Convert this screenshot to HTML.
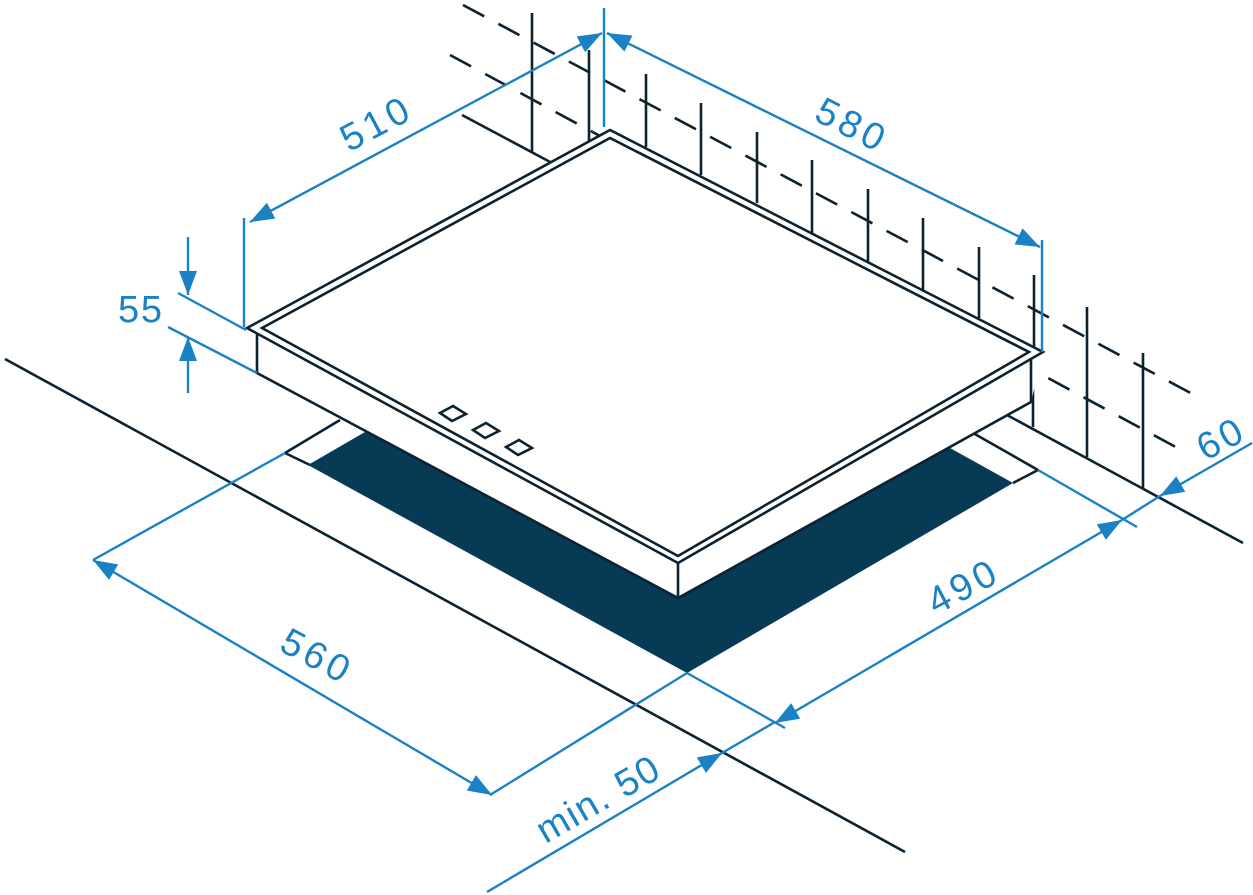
<!DOCTYPE html>
<html><head><meta charset="utf-8"><style>
html,body{margin:0;padding:0;background:#fff;}
svg{display:block;}
text{font-family:"Liberation Sans","DejaVu Sans",sans-serif;fill:#1a82c4;font-size:38px;}
</style></head><body>
<svg width="1253" height="895" viewBox="0 0 1253 895" xmlns="http://www.w3.org/2000/svg">
<defs>
<marker id="ar" viewBox="0 0 24 18" refX="24" refY="9" markerWidth="24" markerHeight="18" markerUnits="userSpaceOnUse" orient="auto-start-reverse">
<path d="M0,0 L24,9 L0,18 Z" fill="#1a82c4"/>
</marker>
</defs>
<g stroke="#0d2230" stroke-width="2.6" fill="none">
<!-- dashed wall lines -->
<line x1="463" y1="5" x2="1200" y2="398" stroke-dasharray="24,16"/>
<line x1="450" y1="55" x2="1185" y2="452" stroke-dasharray="24,16"/>
<!-- wall verticals -->
<line x1="532" y1="13" x2="532" y2="152"/>
<line x1="589" y1="50" x2="589" y2="142"/>
<line x1="646" y1="74" x2="646" y2="147"/>
<line x1="701" y1="103" x2="701" y2="175"/>
<line x1="757" y1="132" x2="757" y2="203"/>
<line x1="812" y1="160" x2="812" y2="233"/>
<line x1="868" y1="189" x2="868" y2="262"/>
<line x1="923" y1="218" x2="923" y2="290"/>
<line x1="979" y1="247" x2="979" y2="318"/>
<line x1="1034" y1="275" x2="1034" y2="347"/>
<line x1="1087" y1="307" x2="1087" y2="457"/>
<line x1="1143" y1="353" x2="1143" y2="488"/>
<line x1="1033" y1="352" x2="1033" y2="427"/>
<!-- wall bases -->
<line x1="462" y1="115" x2="552" y2="163"/>
<line x1="1007" y1="415" x2="1243" y2="543"/>
<!-- countertop front -->
<line x1="5" y1="359" x2="905" y2="852"/>
<!-- cutout -->
<line x1="285" y1="453" x2="340" y2="420"/>
<line x1="285" y1="453" x2="310" y2="465"/>
<line x1="973" y1="433" x2="1038" y2="470"/>
<line x1="1038" y1="470" x2="1013" y2="483"/>
</g>
<polygon points="308,465 365,432 680,590 950,448 1013,483 687,673" fill="#063a55"/>
<!-- hob -->
<polygon points="247,328 610,130 1043,352 1031,402 678,598 257,373 257,334" fill="#fff"/>
<g stroke="#0d2230" stroke-width="2.6" fill="none" stroke-linejoin="miter">
<polygon points="247,328 610,130 1043,352 678,563"/>
<polygon points="262,328 610,138 1029,352 678,556"/>
<polyline points="257,334 257,373 678,598 1031,402 1031,358"/>
<line x1="678" y1="563" x2="678" y2="598"/>
<polygon points="440,413 453,406 466,414 452,421"/>
<polygon points="473,430 486,423 499,431 485,438"/>
<polygon points="506,447 519,440 532,448 518,455"/>
</g>
<!-- dimensions -->
<g stroke="#1a82c4" stroke-width="2.4" fill="none">
<line x1="250" y1="222" x2="602" y2="33" marker-start="url(#ar)" marker-end="url(#ar)"/>
<line x1="607" y1="33" x2="1040" y2="247" marker-start="url(#ar)" marker-end="url(#ar)"/>
<line x1="604" y1="8" x2="604" y2="127"/>
<line x1="244" y1="218" x2="244" y2="327"/>
<line x1="1042" y1="240" x2="1042" y2="352"/>
<line x1="188" y1="237" x2="188" y2="295" marker-end="url(#ar)"/>
<line x1="188" y1="393" x2="188" y2="337" marker-end="url(#ar)"/>
<line x1="178" y1="293" x2="246" y2="330"/>
<line x1="168" y1="327" x2="257" y2="373"/>
<line x1="1252" y1="443" x2="1160" y2="496" marker-end="url(#ar)"/>
<line x1="1160" y1="496" x2="1122" y2="520"/>
<line x1="1122" y1="520" x2="775" y2="723" marker-start="url(#ar)" marker-end="url(#ar)"/>
<line x1="1038" y1="470" x2="1137" y2="527"/>
<line x1="687" y1="673" x2="785" y2="728"/>
<line x1="687" y1="673" x2="490" y2="795"/>
<line x1="93" y1="560" x2="285" y2="453"/>
<line x1="93" y1="560" x2="492" y2="795" marker-start="url(#ar)" marker-end="url(#ar)"/>
<line x1="487" y1="892" x2="722" y2="753" marker-end="url(#ar)"/>
<line x1="722" y1="753" x2="775" y2="722"/>
</g>
<text x="375" y="137" text-anchor="middle" transform="rotate(-28 375 125)" textLength="72">510</text>
<text x="850" y="137" text-anchor="middle" transform="rotate(27 850 125)" textLength="72">580</text>
<text x="140" y="322" text-anchor="middle" textLength="44">55</text>
<text x="1220" y="452" text-anchor="middle" transform="rotate(-28 1220 440)" textLength="46">60</text>
<text x="962" y="600" text-anchor="middle" transform="rotate(-28 962 588)" textLength="72">490</text>
<text x="315" y="668" text-anchor="middle" transform="rotate(28 315 656)" textLength="72">560</text>
<text x="598" y="812" text-anchor="middle" transform="rotate(-30 598 800)" textLength="135">min. 50</text>
</svg>
</body></html>
